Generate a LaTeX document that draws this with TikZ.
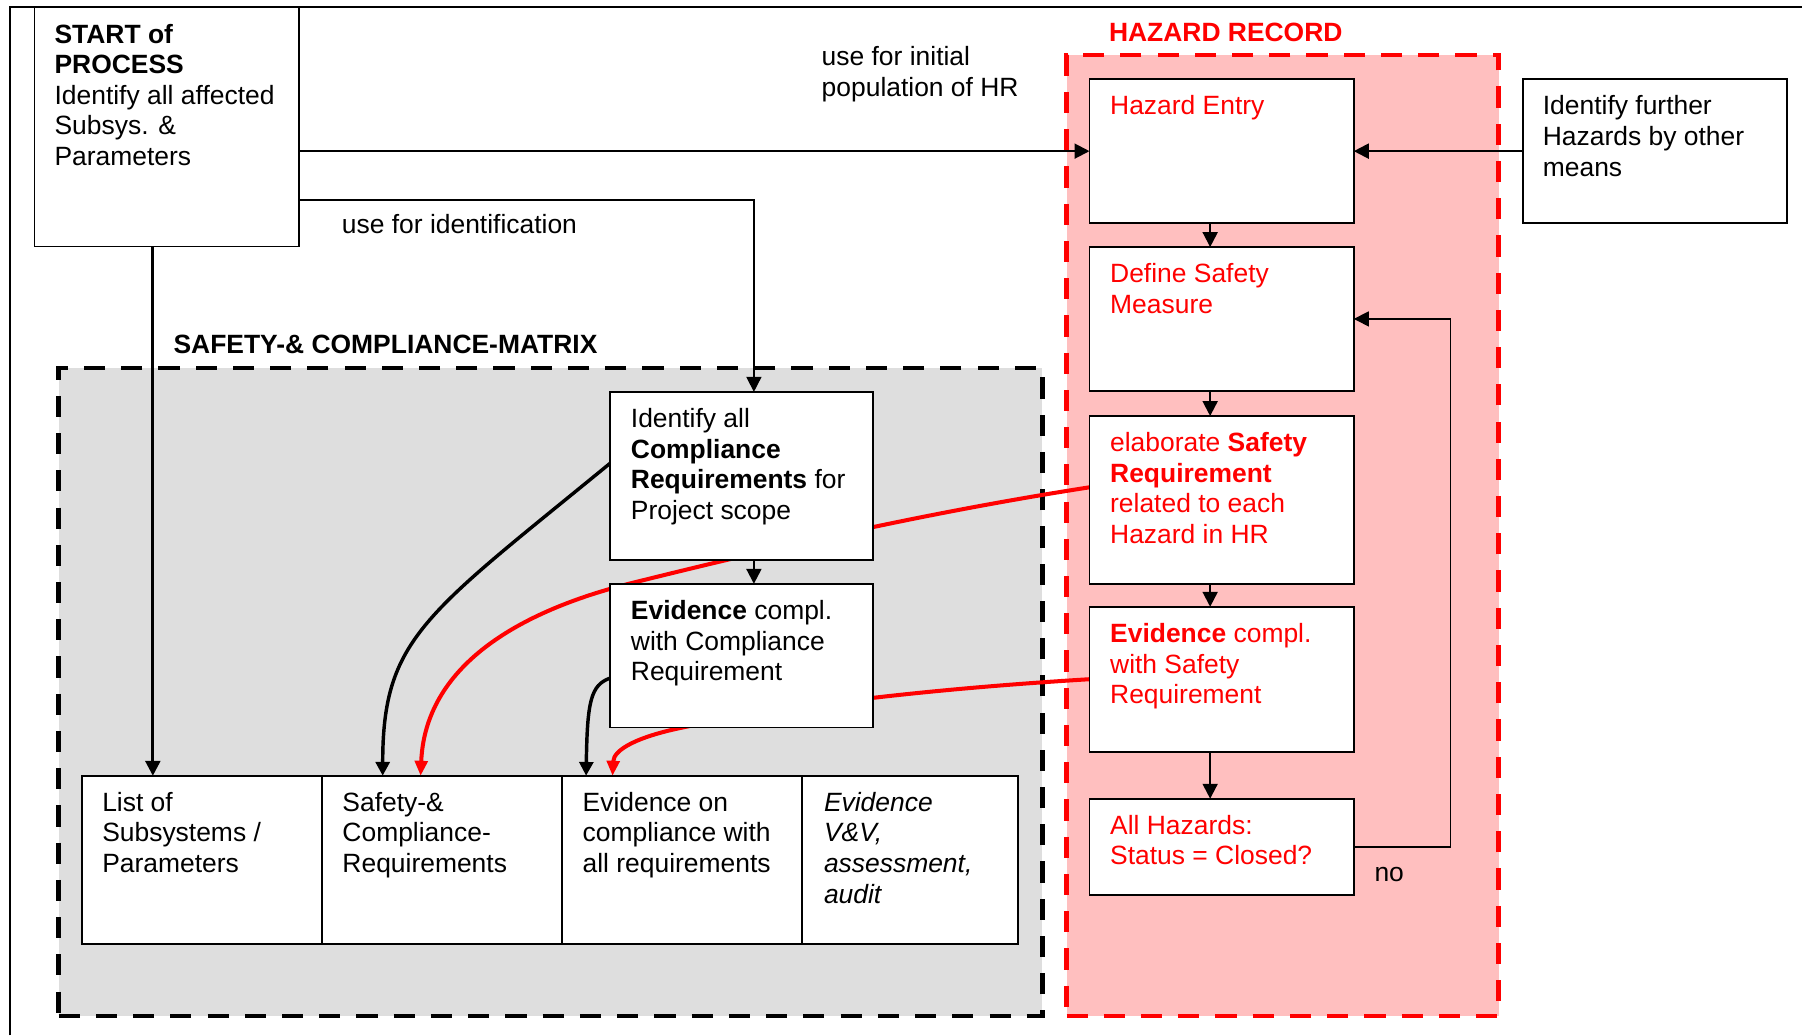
\documentclass[tikz,border=0pt]{standalone}
\usepackage{fontspec}
\setmainfont{Liberation Sans}
\usetikzlibrary{arrows.meta}
\definecolor{hred}{HTML}{FF0000}
\definecolor{hpink}{HTML}{FFBFBF}
\definecolor{mgray}{HTML}{DEDEDE}
\newcommand\tb[1]{\parbox[t]{150pt}{\raggedright #1}}
\pgfdeclarelayer{back}
\pgfdeclarelayer{lines}
\pgfsetlayers{back,lines,main}
\begin{document}
\begin{tikzpicture}[x=0.5pt,y=-0.5pt,
  font=\fontsize{11.5}{13.3}\selectfont,
  bx/.style={draw, line width=0.85pt, fill=white, inner sep=0pt, outer sep=0pt, anchor=north west},
  tx/.style={anchor=base west, inner sep=0pt, outer sep=0pt},
  region/.style={anchor=north west, inner sep=0pt, outer sep=0pt, line width=1.9pt, dash pattern=on 9.2pt off 7pt},
  arr/.style={line width=0.9pt, -{Triangle[length=6.5pt,width=6.5pt]}},
  thinarr/.style={line width=0.65pt, -{Triangle[length=6.5pt,width=6.5pt]}},
  barr/.style={line width=1.5pt, -{Triangle[length=6pt,width=6pt]}},
  rarr/.style={hred, line width=1.75pt, -{Triangle[length=6.5pt,width=5.5pt]}},
]
\useasboundingbox (0,0) rectangle (1568,901);

% regions
\begin{pgfonlayer}{back}
\node[region, draw=black, fill=mgray, minimum width=428pt, minimum height=282pt] (scm) at (51,320) {};
\node[region, draw=hred, fill=hpink, minimum width=188pt, minimum height=418pt] (hr) at (928,48) {};
\draw[line width=1pt] (9,901) -- (9,6) -- (1568,6);
\end{pgfonlayer}

% boxes
\node[bx, minimum width=115pt, minimum height=104pt] (start) at (30,6.5) {};
\node[bx, minimum width=115pt, minimum height=62.5pt] (he) at (948,69) {};
\node[bx, minimum width=115pt, minimum height=62.5pt] (dsm) at (948,215) {};
\node[bx, minimum width=115pt, minimum height=73pt] (esr) at (948,362) {};
\node[bx, minimum width=115pt, minimum height=63pt] (evh) at (948,528) {};
\node[bx, minimum width=115pt, minimum height=42pt] (ahz) at (948,695) {};
\node[bx, minimum width=115pt, minimum height=62.5pt] (ifh) at (1325,69) {};
\node[bx, minimum width=114.5pt, minimum height=73pt] (ica) at (531,341) {};
\node[bx, minimum width=114.5pt, minimum height=62.5pt] (eca) at (531,508) {};
\node[bx, minimum width=104.5pt, minimum height=73pt] (c1) at (71,675) {};
\node[bx, minimum width=104.5pt, minimum height=73pt] (c2) at (280,675) {};
\node[bx, minimum width=104.5pt, minimum height=73pt] (c3) at (489,675) {};
\node[bx, minimum width=94pt, minimum height=73pt] (c4) at (698,675) {};

% connectors
\begin{pgfonlayer}{lines}
\draw[arr] (he.west -| start.east) -- (he.west);
\draw[thinarr] ([yshift=-31.75pt]start.east) -| ([xshift=5.25pt]ica.north);
\draw[arr, line width=1.2pt] ([xshift=-6pt]start.south) -- ([xshift=-6pt]start.south |- c1.north);
\draw[arr] (ifh.west) -- (he.east);
\draw[arr] ([xshift=-5pt]he.south) -- ([xshift=-5pt]dsm.north);
\draw[arr] ([xshift=-5pt]dsm.south) -- ([xshift=-5pt]esr.north);
\draw[arr] ([xshift=-5pt]esr.south) -- ([xshift=-5pt]evh.north);
\draw[arr] ([xshift=-5pt]evh.south) -- ([xshift=-5pt]ahz.north);
\draw[arr] ([xshift=5.25pt]ica.south) -- ([xshift=5.25pt]eca.north);
\draw[thinarr] (ahz.east) -- ++(84,0) |- (dsm.east);
\draw[barr] ([yshift=5.5pt]ica.west) .. controls (370,535) and (333,555) .. ([xshift=-25.75pt]c2.north);
\draw[rarr] ([yshift=5.5pt]esr.west) .. controls (820,444) and (700,470) .. (551,507)
  .. controls (450,532) and (370,580) .. ([xshift=-9.25pt]c2.north);
\draw[barr] ([yshift=-9.75pt]eca.west) .. controls (514,596) and (511,610) .. ([xshift=-41.75pt]c3.north);
\draw[rarr] (evh.west) .. controls (800,600) and (680,615) .. (594,633)
  .. controls (555,641) and (534,652) .. ([xshift=-30.25pt]c3.north);
\end{pgfonlayer}

% texts
\node[tx] (startT) at ([shift={(17.5,31)}]start.north west) {\tb{\textbf{START of}\\\textbf{PROCESS}\\Identify all affected\\Subsys. \&\\Parameters}};
\node[tx, text=hred] (heT) at ([shift={(18,31)}]he.north west) {\tb{Hazard Entry}};
\node[tx, text=hred] (dsmT) at ([shift={(18,31)}]dsm.north west) {\tb{Define Safety\\Measure}};
\node[tx, text=hred] (esrT) at ([shift={(18,31)}]esr.north west) {\tb{elaborate \textbf{Safety}\\\textbf{Requirement}\\related to each\\Hazard in HR}};
\node[tx, text=hred] (evhT) at ([shift={(18,31)}]evh.north west) {\tb{\textbf{Evidence} compl.\\with Safety\\Requirement}};
\node[tx, text=hred] (ahzT) at ([shift={(18,31)}]ahz.north west) {\tb{All Hazards:\\Status = Closed?}};
\node[tx] (ifhT) at ([shift={(17.5,31)}]ifh.north west) {\tb{Identify further\\Hazards by other\\means}};
\node[tx] (icaT) at ([shift={(18,31)}]ica.north west) {\tb{Identify all\\\textbf{Compliance}\\\textbf{Requirements} for\\Project scope}};
\node[tx] (ecaT) at ([shift={(18,31)}]eca.north west) {\tb{\textbf{Evidence} compl.\\with Compliance\\Requirement}};
\node[tx] (c1T) at ([shift={(18,31)}]c1.north west) {\tb{List of\\Subsystems /\\Parameters}};
\node[tx] (c2T) at ([shift={(18,31)}]c2.north west) {\tb{Safety-\&\\Compliance-\\Requirements}};
\node[tx] (c3T) at ([shift={(18,31)}]c3.north west) {\tb{Evidence on\\compliance with\\all requirements}};
\node[tx] (c4T) at ([shift={(19,31)}]c4.north west) {\tb{\itshape Evidence\\V\&V,\\assessment,\\audit}};

\node[tx, text=hred] (hrL) at (965,36) {\textbf{HAZARD RECORD}};
\node[tx] (scmL) at (151,308) {\textbf{SAFETY-\& COMPLIANCE-MATRIX}};
\node[tx] (lab1) at (715,57) {\tb{use for initial\\population of HR}};
\node[tx] (lab2) at (297.5,203) {use for identification};
\node[tx] (lab3) at (1196,767) {no};
\end{tikzpicture}
\end{document}
